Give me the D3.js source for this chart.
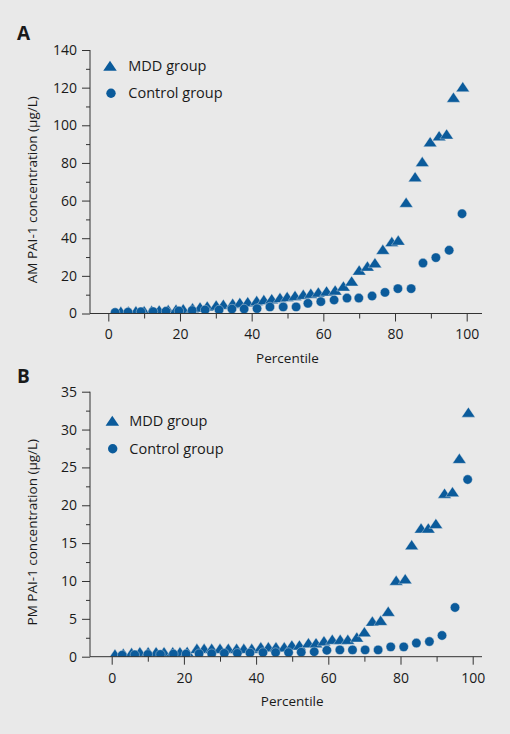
<!DOCTYPE html>
<html><head><meta charset="utf-8">
<script src="https://cdn.jsdelivr.net/npm/d3@7"></script>
<style>html,body{margin:0;padding:0;background:#e9e9e9;} svg{display:block;font-family:"Open Sans",sans-serif;}</style>
</head><body><svg id="c" width="510" height="734"></svg>
<script>
// ---------- data ----------
const seriesNames = ["MDD group", "Control group"];

// Panel A (AM)
const pctA_MDD = [3.5,5.6,7.7,10.0,12.1,14.2,16.7,18.9,20.9,23.5,25.6,27.6,30.1,32.1,34.7,36.7,38.9,41.4,43.4,45.6,47.9,49.9,52.1,54.4,56.5,58.6,60.9,63.3,65.6,67.9,70.0,72.3,74.4,76.6,79.1,80.9,83.1,85.6,87.6,89.8,92.3,94.4,96.3,98.9];
const valA_MDD = [1.2,1.3,1.4,1.5,1.7,1.9,2.1,2.3,2.5,3.0,3.5,4.0,4.5,4.9,5.4,5.9,6.3,6.9,7.4,7.9,8.5,9.0,9.6,10.2,10.8,11.4,12.0,12.5,14.6,17.3,23.1,25.2,27.0,34.1,38.2,39.0,59.1,72.7,80.7,91.3,94.5,95.4,114.9,120.5];
const pctA_Ctl = [1.9,5.5,9.1,12.5,16.1,19.7,23.4,27.0,30.9,34.5,37.9,41.5,45.1,48.8,52.4,55.7,59.3,63.0,66.6,69.9,73.6,77.2,80.8,84.5,87.8,91.4,95.1,98.7];
const valA_Ctl = [0.5,0.7,0.9,1.0,1.2,1.4,1.6,1.9,1.9,2.4,2.4,2.6,3.5,3.5,3.5,5.4,6.3,7.2,8.2,8.2,9.3,11.2,13.2,13.2,26.8,29.7,33.6,53.0];

// Panel B (PM)
const pctB_MDD = [0.9,3.2,5.5,7.8,10.1,12.3,14.5,16.9,18.9,20.9,23.6,25.6,27.7,30.0,32.3,34.6,36.6,38.8,41.3,43.4,45.5,47.8,49.9,52.0,54.5,56.6,58.8,61.1,63.3,65.4,67.9,70.0,72.2,74.5,76.6,78.8,81.3,83.1,85.7,87.7,89.8,92.2,94.4,96.3,98.8];
const valB_MDD = [0.35,0.45,0.55,0.65,0.65,0.65,0.65,0.65,0.65,0.7,1.1,1.1,1.1,1.1,1.1,1.1,1.1,1.1,1.3,1.3,1.3,1.3,1.55,1.55,1.85,1.85,2.1,2.3,2.3,2.3,2.6,3.3,4.7,4.8,6.0,10.1,10.3,14.8,17.0,17.0,17.6,21.6,21.8,26.2,32.3];
const pctB_Ctl = [2.9,6.4,10.0,13.5,17.1,20.6,24.2,27.7,31.2,34.8,38.3,41.9,45.4,49.0,52.5,56.1,59.6,63.2,66.7,70.2,73.8,77.3,80.9,84.4,88.0,91.5,95.1,98.6];
const valB_Ctl = [0.2,0.25,0.3,0.3,0.35,0.35,0.4,0.4,0.45,0.45,0.5,0.55,0.55,0.55,0.6,0.65,0.85,0.9,0.9,0.9,0.9,1.3,1.3,1.8,2.0,2.8,6.5,23.4];

const xTicksMajor = [0,20,40,60,80,100];
const xTicksMinor = [10,30,50,70,90];
const yTicksA = [0,20,40,60,80,100,120,140];
const yMinorA = [10,30,50,70,90,110,130];
const yTicksB = [0,5,10,15,20,25,30,35];
const yMinorB = [2.5,7.5,12.5,17.5,22.5,27.5,32.5];

const panelLetters = ["A","B"];
const yTitles = ["AM PAI-1 concentration (\u00b5g/L)", "PM PAI-1 concentration (\u00b5g/L)"];
const xTitle = "Percentile";

// ---------- drawing ----------
const svg = d3.select("#c");
svg.append("rect").attr("width",510).attr("height",734).attr("fill","#e9e9e9");
const BLUE = "#0b5b9b";
const TXT = "#1a1a1a";
const AX = "#333";
const triPath = "M0,-5L6.75,5L-6.75,5Z";

const panels = [
  {letter:panelLetters[0], letterY:40, x0:108.3, x1:466.7, yb:313.5, yt:50, ymax:140,
   yt_major:yTicksA, yt_minor:yMinorA, title:yTitles[0],
   mddX:pctA_MDD, mddY:valA_MDD, ctlX:pctA_Ctl, ctlY:valA_Ctl,
   leg:{tx:110, ty:65.7, cx:111, cy:93.3, textX:128.3}},
  {letter:panelLetters[1], letterY:383, x0:111.7, x1:472.7, yb:656.7, yt:391.7, ymax:35,
   yt_major:yTicksB, yt_minor:yMinorB, title:yTitles[1],
   mddX:pctB_MDD, mddY:valB_MDD, ctlX:pctB_Ctl, ctlY:valB_Ctl,
   leg:{tx:112.3, ty:420.7, cx:112.7, cy:448.7, textX:129.3}}
];

panels.forEach((p,i)=>{
  const g = svg.append("g");
  const x = d3.scaleLinear().domain([0,100]).range([p.x0,p.x1]);
  const y = d3.scaleLinear().domain([0,p.ymax]).range([p.yb,p.yt]);
  const axX = 90;

  // panel letter
  g.append("text").attr("x",17).attr("y",p.letterY).text(p.letter)
    .attr("font-size",19).attr("font-weight","bold").attr("fill",TXT);

  // legend
  g.append("path").attr("d",triPath).attr("transform",`translate(${p.leg.tx},${p.leg.ty})`).attr("fill",BLUE);
  g.append("circle").attr("cx",p.leg.cx).attr("cy",p.leg.cy).attr("r",4.7).attr("fill",BLUE);
  g.append("text").attr("x",p.leg.textX).attr("y",p.leg.ty+5).text(seriesNames[0]).attr("font-size",14.5).attr("fill",TXT);
  g.append("text").attr("x",p.leg.textX).attr("y",p.leg.cy+5).text(seriesNames[1]).attr("font-size",14.5).attr("fill",TXT);

  // clip
  const cid = "clip"+i;
  svg.append("clipPath").attr("id",cid).append("rect")
    .attr("x",axX).attr("y",p.yt-20).attr("width",400).attr("height",p.yb-(p.yt-20));
  const pts = g.append("g").attr("clip-path",`url(#${cid})`);
  pts.selectAll("path.mdd").data(p.mddX.map((v,k)=>[v,p.mddY[k]])).join("path")
    .attr("class","mdd").attr("d",triPath)
    .attr("transform",d=>`translate(${x(d[0])},${y(d[1])})`)
    .attr("fill",BLUE).attr("stroke","#e9e9e9").attr("stroke-width",0.4);
  pts.selectAll("circle.ctl").data(p.ctlX.map((v,k)=>[v,p.ctlY[k]])).join("circle")
    .attr("class","ctl").attr("r",4.7)
    .attr("cx",d=>x(d[0])).attr("cy",d=>y(d[1]))
    .attr("fill",BLUE).attr("stroke","#e9e9e9").attr("stroke-width",0.4);

  // axes
  const yAx = g.append("g").attr("transform",`translate(${axX},0)`)
    .call(d3.axisLeft(y).tickValues(p.yt_major).tickSize(8).tickPadding(5).tickSizeOuter(0));
  const yAxm = g.append("g").attr("transform",`translate(${axX},0)`)
    .call(d3.axisLeft(y).tickValues(p.yt_minor).tickSize(4).tickFormat("").tickSizeOuter(0));
  const xAx = g.append("g").attr("transform",`translate(0,${p.yb})`)
    .call(d3.axisBottom(x).tickValues(xTicksMajor).tickSize(8).tickPadding(8).tickSizeOuter(0));
  const xAxm = g.append("g").attr("transform",`translate(0,${p.yb})`)
    .call(d3.axisBottom(x).tickValues(xTicksMinor).tickSize(5).tickFormat("").tickSizeOuter(0));
  [yAx,yAxm,xAx,xAxm].forEach(a=>{
    a.select(".domain").remove();
    a.selectAll("line").attr("stroke",AX).attr("stroke-width",1);
    a.selectAll("text").attr("font-size",14).attr("fill",TXT).attr("font-family","'Open Sans',sans-serif");
  });
  g.append("line").attr("x1",axX).attr("x2",axX).attr("y1",p.yt).attr("y2",p.yb).attr("stroke",AX);
  g.append("line").attr("x1",axX).attr("x2",482).attr("y1",p.yb).attr("y2",p.yb).attr("stroke",AX);

  // titles
  g.append("text").attr("x",(p.x0+p.x1)/2).attr("y",p.yb+49).attr("text-anchor","middle")
    .text(xTitle).attr("font-size",13.5).attr("fill",TXT);
  g.append("text").attr("transform",`translate(37,${(p.yt+p.yb)/2+8}) rotate(-90)`)
    .attr("text-anchor","middle").text(p.title).attr("font-size",13.5).attr("fill",TXT);
});
</script></body></html>
